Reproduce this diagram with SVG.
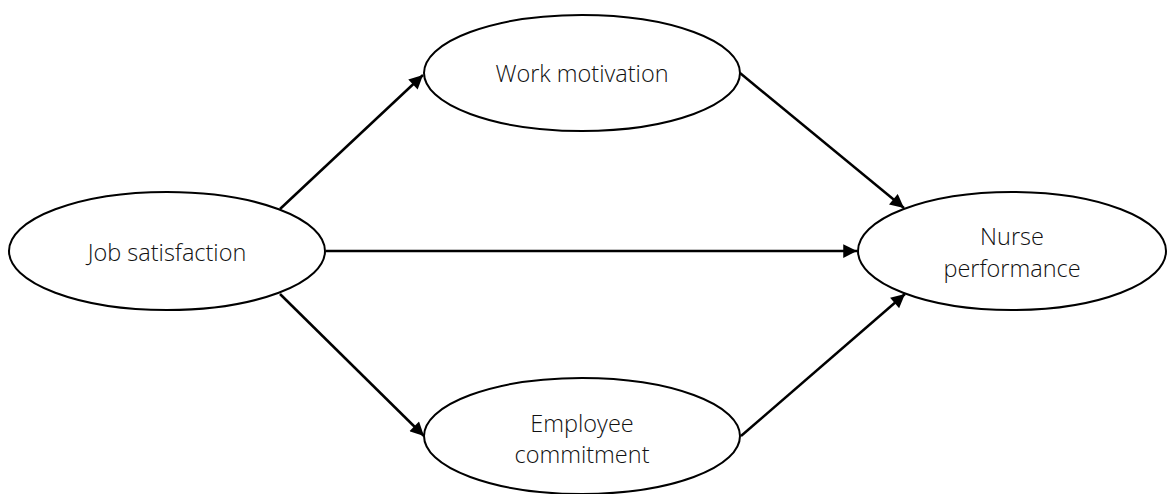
<svg xmlns="http://www.w3.org/2000/svg" width="1167" height="494" viewBox="0 0 1167 494">
<style>
.node{fill:#fff;stroke:#000;stroke-width:2}
.lbl{font-family:"Open Sans","Liberation Sans",sans-serif;font-weight:300;font-size:23.5px;fill:#111;text-anchor:middle}
.edge{stroke:#000;stroke-width:2.5;fill:none;marker-end:url(#ah)}
</style>
<defs>
<marker id="ah" viewBox="0 0 10 10" refX="10" refY="5" markerWidth="6" markerHeight="5.5" markerUnits="strokeWidth" orient="auto">
<path d="M0,0 L10,5 L0,10 Z" fill="#000"/>
</marker>
</defs>
<rect width="1167" height="494" fill="#fff"/>
<g id="connectors">
<line class="edge" x1="280" y1="209" x2="423" y2="75"/>
<line class="edge" x1="740" y1="73" x2="904" y2="208"/>
<line class="edge" x1="326" y1="251" x2="857" y2="251"/>
<line class="edge" x1="280" y1="294" x2="424" y2="436"/>
<line class="edge" x1="741" y1="436" x2="905" y2="294"/>
</g>
<g id="job-satisfaction">
<ellipse class="node" cx="167" cy="251" rx="158" ry="59"/>
<text class="lbl" x="167" y="261">Job satisfaction</text>
</g>
<g id="work-motivation">
<ellipse class="node" cx="582" cy="73" rx="158" ry="58"/>
<text class="lbl" x="582" y="82">Work motivation</text>
</g>
<g id="employee-commitment">
<ellipse class="node" cx="582" cy="436" rx="158" ry="58"/>
<text class="lbl" x="582" y="432">Employee</text>
<text class="lbl" x="582" y="463">commitment</text>
</g>
<g id="nurse-performance">
<ellipse class="node" cx="1012" cy="251" rx="154" ry="59"/>
<text class="lbl" x="1012" y="245">Nurse</text>
<text class="lbl" x="1012" y="277">performance</text>
</g>
</svg>
